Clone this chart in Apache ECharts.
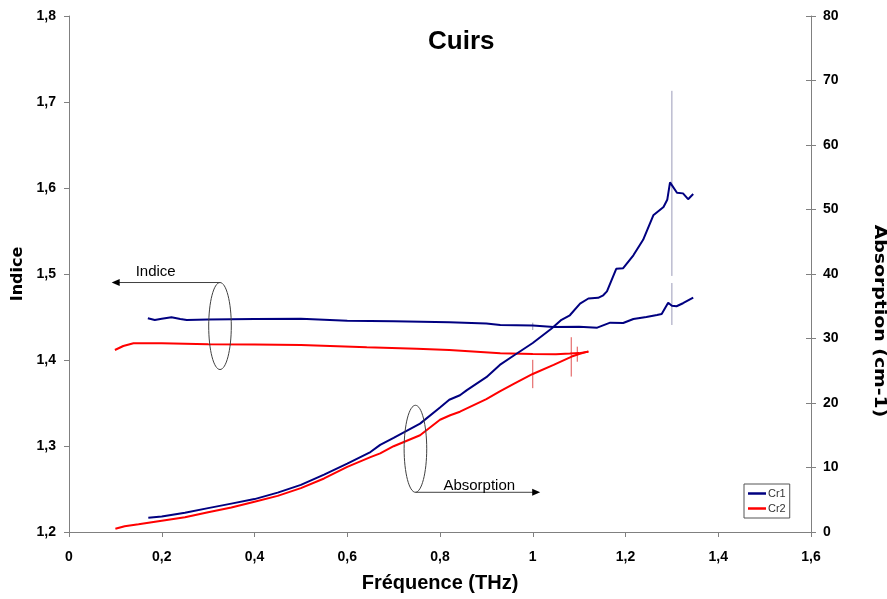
<!DOCTYPE html>
<html>
<head>
<meta charset="utf-8">
<script src="https://cdn.jsdelivr.net/npm/echarts@6/dist/echarts.min.js"></script>
<style>
html,body{margin:0;padding:0;background:#fff;}
#c{width:887px;height:599px;}
</style>
</head>
<body>
<div id="c"></div>
<script>
// ---- data ----
const xTicks = [0, 0.2, 0.4, 0.6, 0.8, 1, 1.2, 1.4, 1.6];

const cr1IndiceX = [0.17,0.185,0.2,0.221,0.24,0.254,0.3,0.35,0.4,0.5,0.6,0.7,0.82,0.9,0.93,1.0,1.045,1.1,1.139,1.167,1.195,1.217,1.245,1.268,1.278,1.292,1.30,1.31,1.324,1.346];
const cr1IndiceY = [1.4485,1.4465,1.4480,1.4496,1.4478,1.4465,1.4470,1.4475,1.4478,1.4480,1.4455,1.4452,1.4438,1.4425,1.4407,1.4400,1.4384,1.4388,1.4376,1.4434,1.4430,1.4477,1.4500,1.4523,1.4535,1.4667,1.4630,1.4625,1.4660,1.4725];

const cr2IndiceX = [0.099,0.117,0.139,0.2,0.3,0.4,0.5,0.642,0.75,0.82,0.93,1.0,1.05,1.08,1.1,1.12];
const cr2IndiceY = [1.4116,1.4163,1.4194,1.4195,1.4182,1.4180,1.4174,1.4147,1.4130,1.4116,1.4078,1.4070,1.4068,1.4075,1.4080,1.4097];

const cr1AbsX = [0.171,0.2,0.25,0.3,0.35,0.4,0.45,0.5,0.55,0.6,0.65,0.671,0.7,0.757,0.8,0.82,0.843,0.858,0.9,0.929,0.96,1.0,1.04,1.062,1.08,1.102,1.12,1.141,1.152,1.16,1.18,1.195,1.217,1.238,1.26,1.282,1.29,1.296,1.311,1.324,1.335,1.346];
const cr1AbsY = [2.2,2.4,3.0,3.7,4.4,5.1,6.1,7.3,8.9,10.6,12.4,13.5,14.6,16.8,19.3,20.5,21.2,22.0,24.0,25.9,27.4,29.3,31.5,32.9,33.6,35.4,36.2,36.3,36.7,37.3,40.8,40.9,42.9,45.3,49.1,50.4,51.5,54.2,52.6,52.5,51.6,52.4];

const cr2AbsX = [0.1,0.12,0.15,0.2,0.25,0.3,0.35,0.4,0.45,0.5,0.55,0.6,0.65,0.671,0.7,0.757,0.8,0.822,0.843,0.9,0.929,0.96,1.0,1.045,1.084,1.1,1.12];
const cr2AbsY = [0.5,0.9,1.2,1.75,2.3,3.05,3.8,4.7,5.6,6.8,8.3,10.1,11.6,12.2,13.3,15.0,17.4,18.1,18.65,20.6,21.8,23.0,24.5,25.9,27.2,27.6,28.0];

// error bars: [x, low, high]
const cr1IndiceErr = [[1.0,1.4349,1.4434],[1.3,1.4407,1.4895]];
const cr1AbsErr = [[1.3,39.7,68.4]];
const cr2IndiceErr = [[1.096,1.398,1.4155]];
const cr2AbsErr = [[1.0,22.3,26.7],[1.083,24.1,30.2]];

// annotation anchors (data coordinates)
const indiceNote = {x:0.3256, y:1.4395, arrowTo:0.092};
const absNote = {x:0.747, y:12.9, arrowTo:1.016};

// ---- chart ----
const BLUE = '#000080', RED = '#ff0000', AXIS = '#808080';
const FONT = '"Liberation Sans", Arial, sans-serif';
const pairs = (xs, ys) => xs.map((x, i) => [x, ys[i]]);
const comma = v => String(Number(v.toFixed(1))).replace('.', ',');

function errSeries(name, data, yIdx, color) {
  return {
    name: name, type: 'custom', yAxisIndex: yIdx, z: 1, silent: true,
    encode: {x: 0, y: [1, 2]},
    data: data,
    renderItem: function (params, api) {
      const a = api.coord([api.value(0), api.value(1)]);
      const b = api.coord([api.value(0), api.value(2)]);
      return {type: 'line', shape: {x1: a[0], y1: a[1], x2: b[0], y2: b[1]},
              style: {stroke: color, lineWidth: 1}};
    }
  };
}
function lineSeries(name, data, yIdx, color) {
  return {name: name, type: 'line', yAxisIndex: yIdx, data: data, symbol: 'none', showSymbol: false,
          z: 3, lineStyle: {color: color, width: 2}, itemStyle: {color: color}};
}
const labelStyle = {fontFamily: FONT, fontSize: 14, fontWeight: 'bold', color: '#000'};

const chart = echarts.init(document.getElementById('c'), null, {renderer: 'canvas'});
const option = {
  animation: false,
  backgroundColor: '#fff',
  textStyle: {fontFamily: FONT},
  title: {text: 'Cuirs', left: 428, top: 29, padding: 0,
          textStyle: {fontFamily: FONT, fontSize: 26, fontWeight: 'bold', color: '#000'}},
  legend: {
    data: ['Cr1', 'Cr2'], orient: 'vertical', left: 744, top: 484,
    padding: [4, 4, 4, 4], itemGap: 4, itemWidth: 18, itemHeight: 2.5, icon: 'rect',
    borderColor: '#555', borderWidth: 1, backgroundColor: '#fff',
    textStyle: {fontFamily: FONT, fontSize: 11, color: '#333', padding: [0, 0, 0, -3]}
  },
  grid: {left: 69, right: 76, top: 16, bottom: 67, containLabel: false, outerBoundsMode: 'none'},
  xAxis: {
    type: 'value', min: 0, max: 1.6, interval: 0.2,
    name: 'Fréquence (THz)', nameLocation: 'middle', nameGap: 41,
    nameTextStyle: {fontFamily: FONT, fontSize: 20, fontWeight: 'bold', color: '#000'},
    axisLine: {show: true, onZero: false, lineStyle: {color: AXIS, width: 1}},
    axisTick: {show: true, length: 5, lineStyle: {color: AXIS}},
    axisLabel: Object.assign({margin: 18, formatter: comma, customValues: xTicks}, labelStyle),
    splitLine: {show: false}
  },
  yAxis: [{
    type: 'value', min: 1.2, max: 1.8, interval: 0.1, position: 'left',
    name: 'Indice', nameLocation: 'middle', nameGap: 40, nameRotate: 90,
    nameTextStyle: {fontFamily: '"DejaVu Sans", sans-serif', fontSize: 16, fontWeight: 'bold', color: '#000'},
    axisLine: {show: true, lineStyle: {color: AXIS, width: 1}},
    axisTick: {show: true, length: 5, lineStyle: {color: AXIS}},
    axisLabel: Object.assign({margin: 13, formatter: comma}, labelStyle),
    splitLine: {show: false}
  }, {
    type: 'value', min: 0, max: 80, interval: 10, position: 'right',
    axisLine: {show: true, lineStyle: {color: AXIS, width: 1}},
    axisTick: {show: true, length: 5, lineStyle: {color: AXIS}},
    axisLabel: Object.assign({margin: 12}, labelStyle),
    splitLine: {show: false}
  }, {
    // inner half of the crossing ticks on the right axis
    type: 'value', min: 0, max: 80, interval: 10, position: 'right',
    axisLine: {show: false},
    axisTick: {show: true, inside: true, length: 5, lineStyle: {color: AXIS}},
    axisLabel: {show: false},
    splitLine: {show: false}
  }],
  series: [
    errSeries('errA', cr1IndiceErr, 0, '#9a9ab8'),
    errSeries('errB', cr1AbsErr, 1, '#9a9ab8'),
    errSeries('errC', cr2IndiceErr, 0, '#e05050'),
    errSeries('errD', cr2AbsErr, 1, '#e05050'),
    lineSeries('Cr1', pairs(cr1IndiceX, cr1IndiceY), 0, BLUE),
    lineSeries('Cr2', pairs(cr2IndiceX, cr2IndiceY), 0, RED),
    lineSeries('Cr1', pairs(cr1AbsX, cr1AbsY), 1, BLUE),
    lineSeries('Cr2', pairs(cr2AbsX, cr2AbsY), 1, RED)
  ]
};
chart.setOption(option);

// annotations positioned through the axes
const RX = 11.3, RY = 43.5, GREY = '#404040';
const ic = chart.convertToPixel({xAxisIndex: 0, yAxisIndex: 0}, [indiceNote.x, indiceNote.y]);
const iEnd = chart.convertToPixel({xAxisIndex: 0, yAxisIndex: 0}, [indiceNote.arrowTo, indiceNote.y]);
const ac = chart.convertToPixel({xAxisIndex: 0, yAxisIndex: 1}, [absNote.x, absNote.y]);
const aEnd = chart.convertToPixel({xAxisIndex: 0, yAxisIndex: 1}, [absNote.arrowTo, absNote.y]);
const iTop = ic[1] - RY, aBot = ac[1] + RY;
chart.setOption({
  graphic: [
    // right axis title (read top to bottom, slightly stretched as in the reference)
    {type: 'text', x: 879, y: 321, rotation: -Math.PI / 2, scaleX: 1.18,
     style: {text: 'Absorption (cm-1)', font: 'bold 16px "DejaVu Sans", sans-serif', fill: '#000',
             textAlign: 'center', textVerticalAlign: 'middle'}, z: 10},
    {type: 'ellipse', shape: {cx: ic[0], cy: ic[1], rx: RX, ry: RY}, style: {fill: 'none', stroke: GREY, lineWidth: 1}, z: 10},
    {type: 'line', shape: {x1: ic[0], y1: iTop, x2: iEnd[0] + 6, y2: iTop}, style: {stroke: GREY, lineWidth: 1}, z: 10},
    {type: 'polygon', shape: {points: [[iEnd[0], iTop], [iEnd[0] + 8, iTop - 3.5], [iEnd[0] + 8, iTop + 3.5]]}, style: {fill: '#000'}, z: 10},
    {type: 'text', x: iEnd[0] + 24, y: iTop - 11, style: {text: 'Indice', font: '15px ' + FONT, fill: '#000', textVerticalAlign: 'middle'}, z: 10},
    {type: 'ellipse', shape: {cx: ac[0], cy: ac[1], rx: RX, ry: RY}, style: {fill: 'none', stroke: GREY, lineWidth: 1}, z: 10},
    {type: 'line', shape: {x1: ac[0], y1: aBot, x2: aEnd[0] - 6, y2: aBot}, style: {stroke: GREY, lineWidth: 1}, z: 10},
    {type: 'polygon', shape: {points: [[aEnd[0], aBot], [aEnd[0] - 8, aBot - 3.5], [aEnd[0] - 8, aBot + 3.5]]}, style: {fill: '#000'}, z: 10},
    {type: 'text', x: ac[0] + 28, y: aBot - 6, style: {text: 'Absorption', font: '15px ' + FONT, fill: '#000', textVerticalAlign: 'middle'}, z: 10}
  ]
});
</script>
</body>
</html>
